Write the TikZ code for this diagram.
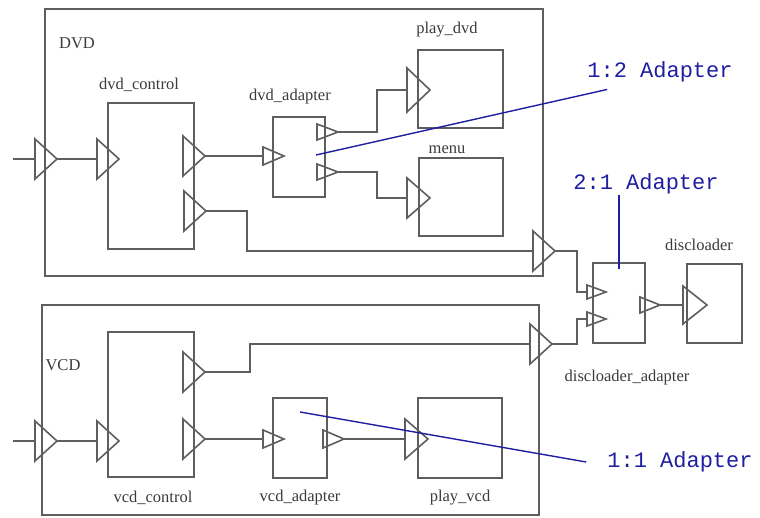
\documentclass[tikz,border=0pt]{standalone}
\usepackage{fontspec}
\setmainfont{Liberation Serif}
\setmonofont{Liberation Mono}
\usetikzlibrary{positioning, calc}
\definecolor{Wire}{HTML}{5E5E5E}
\definecolor{Testo}{HTML}{3A3A3A}
\definecolor{Nota}{HTML}{1E1EA0}
\tikzset{
    blocco/.style={rectangle, draw=Wire, line width=1.6pt, inner sep=0pt},
    filo/.style={draw=Wire, line width=1.6pt},
    etichetta/.style={font=\fontsize{16.5}{18}\selectfont, text=Testo, inner sep=0pt},
    nota/.style={font=\fontsize{22}{24}\selectfont\ttfamily, text=Nota, inner sep=1pt},
    richiamo/.style={draw=Nota, line width=1.4pt},
    pics/porta/.style 2 args={code={
        \draw[filo] (0,-#1) -- (#2,0) -- (0,#1) -- cycle;
        \coordinate (-in) at (0,0);
        \coordinate (-out) at (#2,0);
    }},
}

\begin{document}
\begin{tikzpicture}[x=1pt, y=-1pt]

    \useasboundingbox (0,0) rectangle (760,518);

    % --- 1. DVD (blocco superiore) ---
    \node[blocco, minimum width=498pt, minimum height=267pt] (dvd) at (294,142.5) {};
    \node[etichetta] (lbldvd) at (77,43) {DVD};

    \node[blocco, minimum width=86pt, minimum height=146pt] (dvdctl) at (151,176) {};
    \node[etichetta] (lbldvdctl) at (139,85) {dvd\_control};

    \node[blocco, minimum width=52pt, minimum height=80pt] (dvdadp) at (299,157) {};
    \node[etichetta] (lbldvdadp) at (290,97) {dvd\_adapter};

    \node[blocco, minimum width=85pt, minimum height=78pt] (playdvd) at (460.5,89) {};
    \node[etichetta] (lblplaydvd) at (447,30) {play\_dvd};

    \node[blocco, minimum width=84pt, minimum height=78pt] (menu) at (461,197) {};
    \node[etichetta] (lblmenu) at (447,150) {menu};

    % porte DVD
    \pic (dvdin)     at (35,159)  {porta={20}{22}};
    \pic (dvdctlin)  at (97,159)  {porta={20}{22}};
    \pic (dvdctlo1)  at (183,156) {porta={20}{22}};
    \pic (dvdctlo2)  at (184,211) {porta={20}{22}};
    \pic (dvdadpin)  at (263,156) {porta={9}{21}};
    \pic (dvdadpo1)  at (317,132) {porta={8}{21}};
    \pic (dvdadpo2)  at (317,172) {porta={8}{21}};
    \pic (playdvdin) at (407,90)  {porta={22}{23}};
    \pic (menuin)    at (407,198) {porta={20}{23}};
    \pic (dvdout)    at (533,251) {porta={20}{22}};

    % collegamenti DVD
    \coordinate (srcdvd) at (13,159);
    \draw[filo] (srcdvd) -- (dvdin-in);
    \draw[filo] (dvdin-out) -- (dvdctlin-in);
    \draw[filo] (dvdctlo1-out) -- (dvdadpin-in);
    \draw[filo] (dvdadpo1-out) -| ([xshift=-30pt]playdvdin-in) -- (playdvdin-in);
    \draw[filo] (dvdadpo2-out) -| ([xshift=-30pt]menuin-in) -- (menuin-in);
    \draw[filo] (dvdctlo2-out) -| ([xshift=-286pt]dvdout-in) -- (dvdout-in);

    % --- 2. VCD (blocco inferiore) ---
    \node[blocco, minimum width=497pt, minimum height=210pt] (vcd) at (290.5,410) {};
    \node[etichetta] (lblvcd) at (63,365) {VCD};

    \node[blocco, minimum width=86pt, minimum height=145pt] (vcdctl) at (151,404.5) {};
    \node[etichetta] (lblvcdctl) at (153,498) {vcd\_control};

    \node[blocco, minimum width=54pt, minimum height=80pt] (vcdadp) at (300,438) {};
    \node[etichetta] (lblvcdadp) at (300,498) {vcd\_adapter};

    \node[blocco, minimum width=84pt, minimum height=80pt] (playvcd) at (460,438) {};
    \node[etichetta] (lblplayvcd) at (460,498) {play\_vcd};

    % porte VCD
    \pic (vcdin)     at (35,441)  {porta={20}{22}};
    \pic (vcdctlin)  at (97,441)  {porta={20}{22}};
    \pic (vcdctlo1)  at (183,372) {porta={20}{22}};
    \pic (vcdctlo2)  at (183,439) {porta={20}{22}};
    \pic (vcdadpin)  at (263,439) {porta={9}{21}};
    \pic (vcdadpo)   at (323,439) {porta={9}{21}};
    \pic (playvcdin) at (405,439) {porta={20}{23}};
    \pic (vcdout)    at (530,344) {porta={20}{22}};

    % collegamenti VCD
    \coordinate (srcvcd) at (13,441);
    \draw[filo] (srcvcd) -- (vcdin-in);
    \draw[filo] (vcdin-out) -- (vcdctlin-in);
    \draw[filo] (vcdctlo1-out) -| ([xshift=-280pt]vcdout-in) -- (vcdout-in);
    \draw[filo] (vcdctlo2-out) -- (vcdadpin-in);
    \draw[filo] (vcdadpo-out) -- (playvcdin-in);

    % --- 3. Disc loader (fuori dai blocchi) ---
    \node[blocco, minimum width=52pt, minimum height=80pt] (discadp) at (619,303) {};
    \node[etichetta] (lbldiscadp) at (627,378) {discloader\_adapter};

    \node[blocco, minimum width=55pt, minimum height=79pt] (discld) at (714.5,303.5) {};
    \node[etichetta] (lbldiscld) at (699,245) {discloader};

    \pic (discin1)  at (587,292) {porta={7}{19}};
    \pic (discin2)  at (587,319) {porta={7}{19}};
    \pic (discout)  at (640,305) {porta={8}{20}};
    \pic (discldin) at (683,305) {porta={19}{24}};

    \draw[filo] (dvdout-out) -| ([xshift=-10pt]discin1-in) -- (discin1-in);
    \draw[filo] (vcdout-out) -| ([xshift=-10pt]discin2-in) -- (discin2-in);
    \draw[filo] (discout-out) -- (discldin-in);

    % --- 4. Note (adattatori) ---
    \node[nota] (nota12) at (660,72) {1:2 Adapter};
    \node[nota] (nota21) at (646,184) {2:1 Adapter};
    \node[nota] (nota11) at (680,462) {1:1 Adapter};

    \draw[richiamo] ([xshift=21pt, yshift=-6pt]nota12.south west) -- ([xshift=17pt, yshift=2pt]dvdadp.center);
    \draw[richiamo] (nota21.south -| discadp.north) -- ([yshift=-7pt]discadp.north);
    \draw[richiamo] ([xshift=-20pt]nota11.west) -- ([yshift=26pt]vcdadp.center);

\end{tikzpicture}
\end{document}
